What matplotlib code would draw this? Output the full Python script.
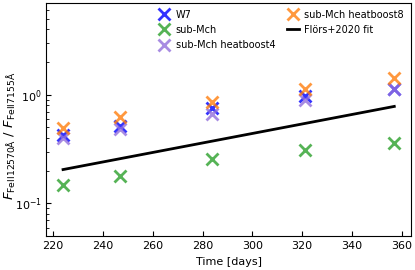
import numpy as np
import matplotlib.pyplot as plt

# Data
times = [224, 247, 284, 321, 357]
w7 = [0.43, 0.51, 0.75, 0.98, 1.12]
sub_mch = [0.147, 0.178, 0.254, 0.31, 0.357]
heatboost4 = [0.40, 0.48, 0.66, 0.90, 1.12]
heatboost8 = [0.49, 0.63, 0.86, 1.13, 1.43]
fit_times = [224, 357]
fit_values = [0.205, 0.78]

fig, ax = plt.subplots(figsize=(4.15, 2.7), dpi=100)

kw = dict(marker='x', linestyle='none', markersize=9, markeredgewidth=2, alpha=0.8)
ax.plot(times, w7, color='blue', label='W7', **kw)
ax.plot(times, sub_mch, color='tab:green', label='sub-Mch', **kw)
ax.plot(times, heatboost4, color='mediumpurple', label='sub-Mch heatboost4', **kw)
ax.plot(times, heatboost8, color='tab:orange', label='sub-Mch heatboost8', **kw)
ax.plot(fit_times, fit_values, color='black', lw=2, label='Flörs+2020 fit')

ax.set_yscale('log')
ax.set_ylim(0.05, 7)
ax.set_xlabel('Time [days]', fontsize=8)
ax.set_ylabel(r'$F_{\rm FeII 12570Å}$ / $F_{\rm FeII 7155Å}$', fontsize=9.5)
ax.yaxis.set_label_coords(-0.077, 0.43)
ax.tick_params(which='both', direction='in', labelsize=8)
ax.legend(ncol=2, loc='upper right', frameon=False, fontsize=7,
          handlelength=1.2, handletextpad=0.6, columnspacing=1.2, labelspacing=0.55,
          borderaxespad=0.3)

fig.subplots_adjust(left=0.112, right=0.99, top=0.99, bottom=0.125)
fig.savefig('out.png', dpi=100)
